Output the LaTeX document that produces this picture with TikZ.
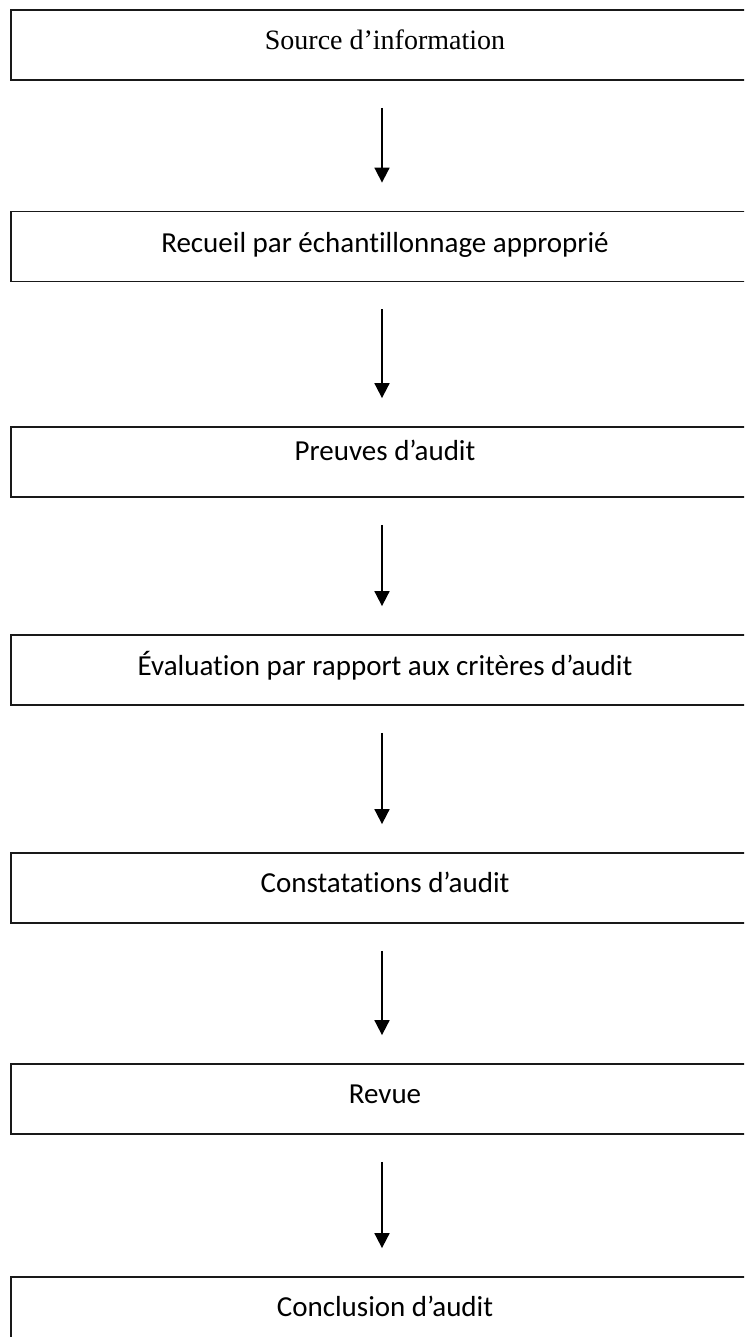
\documentclass[tikz,border=0pt]{standalone}
\usepackage{fontspec}
\setmainfont{Carlito}[Ligatures={NoCommon}]
\newfontfamily\timesfont{Liberation Serif}
\usetikzlibrary{arrows.meta}
\begin{document}
\begin{tikzpicture}[x=1pt,y=-1pt,
  box/.style={draw=black!90, line width=1.8pt, minimum width=739pt, minimum height=70pt, inner sep=0pt},
  lbl/.style={font=\fontsize{29}{34}\selectfont, inner sep=0pt},
  arr/.style={line width=1.8pt, -{Triangle[length=15pt,width=15pt]}}]
\useasboundingbox (0,0) rectangle (744,1337);
\clip (0,0) rectangle (744,1337);
\fill[white] (0,0) rectangle (744,1337);
\node[box] (b1) at (380.5,45) {};
\node[box] (b2) at (380.5,246.5) {};
\node[box] (b3) at (380.5,462) {};
\node[box] (b4) at (380.5,670) {};
\node[box] (b5) at (380.5,888) {};
\node[box] (b6) at (380.5,1099) {};
\node[box] (b7) at (380.5,1312) {};
\node[lbl, font=\timesfont\fontsize{28}{34}\selectfont] (t1) at (385,40) {Source d’information};
\node[lbl] (t2) at (385,245) {Recueil par échantillonnage approprié};
\node[lbl] (t3) at (385,450) {Preuves d’audit};
\node[lbl] (t4) at (385,666) {Évaluation par rapport aux critères d’audit};
\node[lbl] (t5) at (385,882) {Constatations d’audit};
\node[lbl] (t6) at (385,1094) {Revue};
\node[lbl] (t7) at (385,1306) {Conclusion d’audit};
\foreach \a/\b in {b1/b2,b2/b3,b3/b4,b4/b5,b5/b6,b6/b7}
  \draw[arr] ([xshift=1.5pt,yshift=-27pt]\a.south) -- ([xshift=1.5pt,yshift=28pt]\b.north);
\end{tikzpicture}
\end{document}
